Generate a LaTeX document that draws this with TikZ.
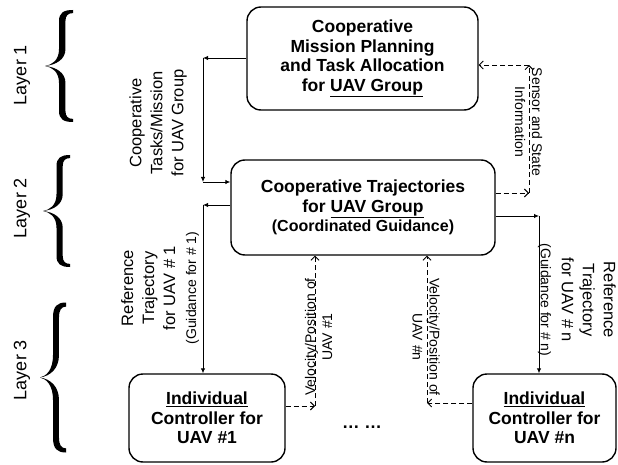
\documentclass[tikz,border=0pt]{standalone}
\usepackage{fontspec}
\setmainfont{Liberation Sans}
\usetikzlibrary{arrows.meta}

\begin{document}
\begin{tikzpicture}[x=1pt,y=-1pt,
  box/.style={draw,line width=1.4pt,rounded corners=14pt,align=center,inner sep=0pt,font=\fontsize{17.5}{19.5}\selectfont\bfseries},
  sarrow/.style={line width=0.9pt,-{Latex[length=5pt,width=4.5pt]}},
  darrow/.style={line width=0.9pt,dash pattern=on 5pt off 3pt,-{Straight Barb[length=4pt,width=8pt]}},
  lbl/.style={align=center,inner sep=0pt,font=\fontsize{16.5}{21}\selectfont},
  slbl/.style={align=center,inner sep=0pt,font=\fontsize{14}{17}\selectfont},
  layer/.style={inner sep=0pt,font=\fontsize{18}{20}\selectfont,rotate=90},
  mybrace/.pic={
    \fill (1,-1) .. controls (0.66,-1) and (0.5,-0.95) .. (0.5,-0.8) -- (0.5,-0.3)
      .. controls (0.5,-0.1) and (0.25,-0.02) .. (0,0)
      .. controls (0.4,-0.02) and (0.73,-0.12) .. (0.73,-0.3) -- (0.73,-0.8)
      .. controls (0.73,-0.9) and (0.82,-0.945) .. (1,-0.945) -- cycle;
    \fill (1,1) .. controls (0.66,1) and (0.5,0.95) .. (0.5,0.8) -- (0.5,0.3)
      .. controls (0.5,0.1) and (0.25,0.02) .. (0,0)
      .. controls (0.4,0.02) and (0.73,0.12) .. (0.73,0.3) -- (0.73,0.8)
      .. controls (0.73,0.9) and (0.82,0.945) .. (1,0.945) -- cycle;
  }
]
\useasboundingbox (0,0) rectangle (618,465);

% boxes
\node[box,minimum width=231pt,minimum height=103pt] (top) at (362.5,58.5)
  {Cooperative\\Mission Planning\\and Task Allocation\\for \underline{UAV Group}};
\node[box,minimum width=264pt,minimum height=95pt] (mid) at (363,207.5)
  {Cooperative Trajectories\\for \underline{UAV Group}\\{\fontsize{16}{19}\selectfont (Coordinated Guidance)}};
\node[box,minimum width=156pt,minimum height=88pt] (b1) at (207,418)
  {\underline{Individual}\\Controller for\\UAV \#1};
\node[box,minimum width=143pt,minimum height=88pt] (bn) at (544.5,418)
  {\underline{Individual}\\Controller for\\UAV \#n};

% corner coordinates
\coordinate (c1) at (203,58);
\coordinate (c2) at (203,182);
\coordinate (c3) at (203,205);
\coordinate (c4) at (539,216);
\coordinate (c5) at (529,193);
\coordinate (c6) at (529,65);
\coordinate (c7) at (315,406);
\coordinate (c8) at (427,403);

% solid connectors
\draw[sarrow] (c1 -| top.west) -- (c1);
\draw[sarrow] (c1) -- (c2);
\draw[sarrow] (c2) -- (c2 -| mid.west);
\draw[sarrow] (c3 -| mid.west) -- (c3);
\draw[sarrow] (c3) -- (c3 |- b1.north);
\draw[sarrow] (c4 -| mid.east) -- (c4);
\draw[sarrow] (c4) -- (c4 |- bn.north);

% dashed connectors
\draw[darrow] (c5 -| mid.east) -- (c5);
\draw[darrow] (c5) -- (c6);
\draw[darrow] (c6) -- (c6 -| top.east);
\draw[darrow] (c7 -| b1.east) -- (c7);
\draw[darrow] (c7) -- (c7 |- mid.south);
\draw[darrow] (c8 -| bn.west) -- (c8);
\draw[darrow] (c8) -- (c8 |- mid.south);

% labels
\node[lbl,rotate=90] (coop) at (158,123) {Cooperative\\Tasks/Mission\\for UAV Group};
\node[lbl,rotate=90] (ref1) at (160,288) {Reference\\Trajectory\\for UAV \# 1\\{\fontsize{14}{16}\selectfont (Guidance for \# 1)}};
\node[lbl,rotate=-90] (refn) at (577,300) {Reference\\Trajectory\\for UAV \# n\\{\fontsize{14}{16}\selectfont (Guidance for \# n)}};
\node[slbl,rotate=-90] (sens) at (528.5,122) {Sensor and State\\Information};
\node[slbl,rotate=90] (vel1) at (318.5,337) {Velocity/Position of\\UAV \#1};
\node[slbl,rotate=-90] (veln) at (426,337) {Velocity/Position of\\UAV \#n};
\node[font=\fontsize{17.5}{19}\selectfont\bfseries] (dots) at (362,427) {… …};

% layers
\node[layer] (l1) at (22,75) {Layer 1};
\node[layer] (l2) at (22,208) {Layer 2};
\node[layer] (l3) at (22,370) {Layer 3};

% braces
\pic[xscale=28,yscale=56] at (45,66) {mybrace};
\pic[xscale=27,yscale=56] at (43,211) {mybrace};
\pic[xscale=26,yscale=75] at (40,377.5) {mybrace};
\end{tikzpicture}
\end{document}
